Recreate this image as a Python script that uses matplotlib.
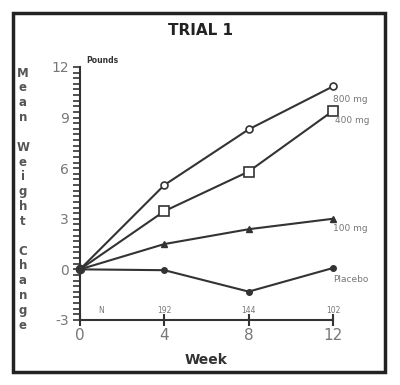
import matplotlib.pyplot as plt
from matplotlib.ticker import MultipleLocator
from matplotlib.patches import Rectangle

weeks = [0, 4, 8, 12]
dose_800 = [0, 5.0, 8.3, 10.85]
dose_400 = [0, 3.45, 5.8, 9.4]
dose_100 = [0, 1.5, 2.38, 3.0]
placebo = [0, -0.05, -1.32, 0.08]
n_labels = ["N", "192", "144", "102"]
n_pos = [1, 4, 8, 12]

koyu = "#333333"
gri = "#777777"

plt.rcParams["axes.unicode_minus"] = False

fig = plt.figure(figsize=(4, 3.85), dpi=100)
ax = fig.add_axes([0.2, 0.169, 0.6325, 0.657])

# Cerceve
fig.patches.append(Rectangle((0.033, 0.034), 0.93, 0.932, transform=fig.transFigure,
                             fill=False, edgecolor="#222222", linewidth=2.5))

her = [1, 2, 3]
ax.plot(weeks, dose_800, color=koyu, lw=1.5, marker="o", ms=5, mfc="white", mec=koyu,
        mew=1.2, markevery=her)
ax.plot(weeks, dose_400, color=koyu, lw=1.5, marker="s", ms=7, mfc="white", mec=koyu,
        mew=1.2, markevery=her)
ax.plot(weeks, dose_100, color=koyu, lw=1.5, marker="^", ms=4, mfc=koyu, mec=koyu,
        markevery=her)
ax.plot(weeks, placebo, color=koyu, lw=1.5, marker="o", ms=4, mfc=koyu, mec=koyu,
        markevery=her)
ax.plot([0], [0], "o", color=koyu, ms=6)

etiket = dict(fontsize=6.5, color=gri, va="center", ha="left")
ax.text(12.0, dose_800[-1] - 0.75, "800 mg", **etiket)
ax.text(12.1, dose_400[-1] - 0.6, "400 mg", **etiket)
ax.text(12.0, dose_100[-1] - 0.6, "100 mg", **etiket)
ax.text(12.0, placebo[-1] - 0.7, "Placebo", **etiket)

for p, t in zip(n_pos, n_labels):
    ax.text(p, -2.45, t, fontsize=5.5, color=gri, ha="center", va="center")

ax.text(0.3, 12.1, "Pounds", fontsize=5.5, fontweight="bold", color=koyu, ha="left", va="bottom")

ax.set_xlim(0, 12)
ax.set_ylim(-3, 12)
ax.set_xticks(weeks)
ax.set_yticks([-3, 0, 3, 6, 9, 12])
ax.yaxis.set_minor_locator(MultipleLocator(1 / 3))
ax.spines["top"].set_visible(False)
ax.spines["right"].set_visible(False)
ax.spines["left"].set_color(koyu)
ax.spines["bottom"].set_color(koyu)
ax.spines["left"].set_linewidth(1.5)
ax.spines["bottom"].set_linewidth(1.5)
ax.tick_params(axis="y", which="both", direction="out", length=5, width=1.2, color=koyu,
               labelsize=10, labelcolor=gri, pad=3)
ax.tick_params(axis="x", direction="inout", length=8, width=1.5, color=koyu,
               labelsize=11, labelcolor=gri, pad=2)
for l in ax.lines:
    l.set_clip_on(False)

ax.set_xlabel("Week", fontsize=10, fontweight="bold", color=koyu, labelpad=7)
fig.text(0.5, 0.922, "TRIAL 1", fontsize=11, fontweight="bold", color="#222222",
         ha="center", va="center")

# Dikey harfler
harfler = "Mean Weight Change"
y0, dy = 0.81, 0.0385
for i, h in enumerate(harfler):
    if h != " ":
        fig.text(0.057, y0 - i * dy, h, fontsize=8.5, fontweight="bold", color="#555555",
                 ha="center", va="center")

plt.savefig("out.png", dpi=100)
